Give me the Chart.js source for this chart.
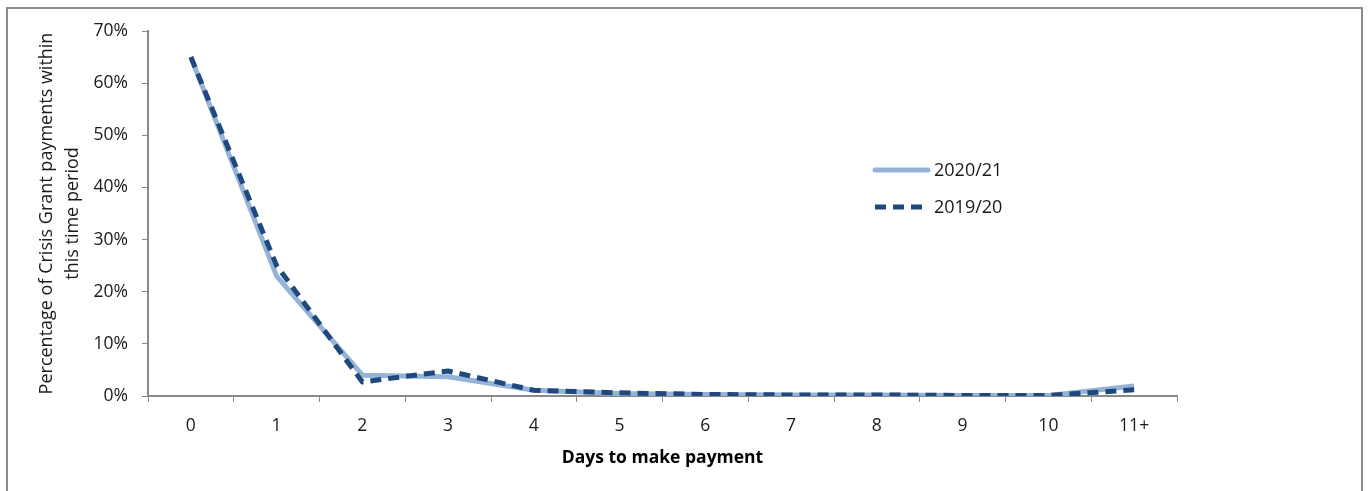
<!DOCTYPE html>
<html>
<head>
<meta charset="utf-8">
<script src="https://cdn.jsdelivr.net/npm/chart.js@4"></script>
<style>
  html, body { margin: 0; padding: 0; background: #fff; overflow: hidden; }
  #wrap { position: relative; width: 1371px; height: 491px; }
  #frame { position: absolute; left: 6px; top: 7px; width: 1357px; height: 520px; border: 2px solid #8c8c8c; box-sizing: border-box; }
  canvas { position: absolute; left: 0; top: 0; }
</style>
</head>
<body>
<div id="wrap">
  <div id="frame"></div>
  <canvas id="chart" width="1371" height="491"></canvas>
</div>
<script>
// categories and values (percent)
const days = ['0', '1', '2', '3', '4', '5', '6', '7', '8', '9', '10', '11+'];
const y2020 = [65, 23, 4.0, 3.7, 1.1, 0.5, 0.3, 0.2, 0.2, 0.1, 0.1, 1.9];
const y2019 = [65, 25, 2.7, 4.8, 1.1, 0.6, 0.3, 0.2, 0.2, 0.1, 0.1, 1.2];
const seriesNames = ['2020/21', '2019/20'];

const font = '"Open Sans", sans-serif';
const axisGrey = '#898989';

// legend drawn inside the plot like the original
const innerLegend = {
  id: 'innerLegend',
  afterDatasetsDraw(chart) {
    const ctx = chart.ctx;
    const rows = [170, 207];
    chart.data.datasets.forEach((ds, i) => {
      const y = rows[i];
      ctx.save();
      ctx.strokeStyle = ds.borderColor;
      ctx.lineWidth = ds.borderWidth;
      ctx.setLineDash(ds.borderDash || []);
      ctx.lineCap = i === 0 ? 'round' : 'butt';
      ctx.beginPath();
      ctx.moveTo(875, y);
      ctx.lineTo(928, y);
      ctx.stroke();
      ctx.setLineDash([]);
      ctx.fillStyle = '#1a1a1a';
      ctx.font = '18px ' + font;
      ctx.textBaseline = 'middle';
      ctx.fillText(ds.label, 934, y + 1);
      ctx.restore();
    });
  }
};

new Chart(document.getElementById('chart'), {
  type: 'line',
  data: {
    labels: days,
    datasets: [
      {
        label: seriesNames[0],
        data: y2020,
        borderColor: '#95b3d7',
        borderWidth: 5,
        pointRadius: 0,
        tension: 0,
        order: 2,
        borderJoinStyle: 'round'
      },
      {
        label: seriesNames[1],
        data: y2019,
        borderColor: '#1f497d',
        borderWidth: 5,
        borderDash: [11, 7],
        pointRadius: 0,
        tension: 0,
        order: 1,
        borderJoinStyle: 'round'
      }
    ]
  },
  options: {
    responsive: false,
    animation: false,
    layout: { padding: { left: 34, top: 31, right: 194, bottom: 19 } },
    plugins: {
      legend: { display: false },
      tooltip: { enabled: false }
    },
    scales: {
      x: {
        offset: true,
        afterFit: s => { s.height = 76; },
        grid: { offset: true, drawOnChartArea: false, drawTicks: true, tickLength: 6, color: axisGrey },
        border: { color: axisGrey, width: 2 },
        ticks: { color: '#1a1a1a', font: { family: font, size: 17.5 }, padding: 14, maxRotation: 0 },
        title: {
          display: true,
          text: 'Days to make payment',
          color: '#000',
          font: { family: font, size: 17.5, weight: 'bold' },
          padding: { top: 4, bottom: 3 }
        }
      },
      y: {
        min: 0,
        max: 70,
        afterFit: s => { s.width = 114; },
        grid: { drawOnChartArea: false, drawTicks: true, tickLength: 6, color: axisGrey },
        border: { color: axisGrey, width: 2 },
        ticks: {
          stepSize: 10,
          color: '#1a1a1a',
          font: { family: font, size: 17.5 },
          padding: 14,
          callback: v => v + '%'
        },
        title: {
          display: true,
          text: ['Percentage of Crisis Grant payments within', 'this time period'],
          color: '#1a1a1a',
          font: { family: font, size: 18, lineHeight: 1.45 },
          padding: { top: 0, bottom: 0 }
        }
      }
    }
  },
  plugins: [innerLegend]
});
</script>
</body>
</html>
